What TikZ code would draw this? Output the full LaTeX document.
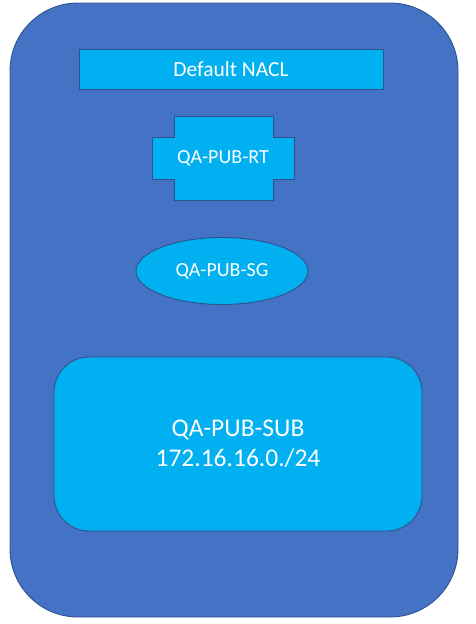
\documentclass[tikz,border=0pt]{standalone}
\usepackage{fontspec}
\setmainfont{Carlito}
\usetikzlibrary{shapes.geometric}
\definecolor{outerfill}{HTML}{4472C4}
\definecolor{outerline}{HTML}{2F528F}
\definecolor{innerfill}{HTML}{00B0F0}
\begin{document}
\begin{tikzpicture}[x=1pt,y=-1pt,
  boxline/.style={draw=outerline,line width=0.9pt},
  lbl/.style={text=white,font=\fontsize{20}{24}\selectfont}]
\useasboundingbox (0,0) rectangle (476,624);
% outer container
\draw[boxline,fill=outerfill,rounded corners=68pt] (10,3) rectangle (458,617);
% NACL bar
\node[boxline,fill=innerfill,minimum width=304pt,minimum height=40pt,inner sep=0pt,lbl,font=\fontsize{21.5}{25}\selectfont] (nacl) at (231,69) {Default NACL};
% cross shape (route table)
\draw[boxline,fill=innerfill] (174,116) -- (273,116) -- (273,137) -- (294,137) -- (294,179) -- (273,179) -- (273,200) -- (174,200) -- (174,179) -- (152,179) -- (152,137) -- (174,137) -- cycle;
\node[lbl] (rt) at (223,158) {QA-PUB-RT};
% ellipse (security group)
\node[ellipse,boxline,fill=innerfill,minimum width=172pt,minimum height=67pt,inner sep=0pt,lbl] (sg) at (222,271) {QA-PUB-SG};
% subnet
\node[boxline,fill=innerfill,rounded corners=35pt,minimum width=368pt,minimum height=174pt,inner sep=0pt,lbl,font=\fontsize{25.5}{30}\selectfont,align=center] (sub) at (238,444) {QA-PUB-SUB\\172.16.16.0./24};
\end{tikzpicture}
\end{document}
